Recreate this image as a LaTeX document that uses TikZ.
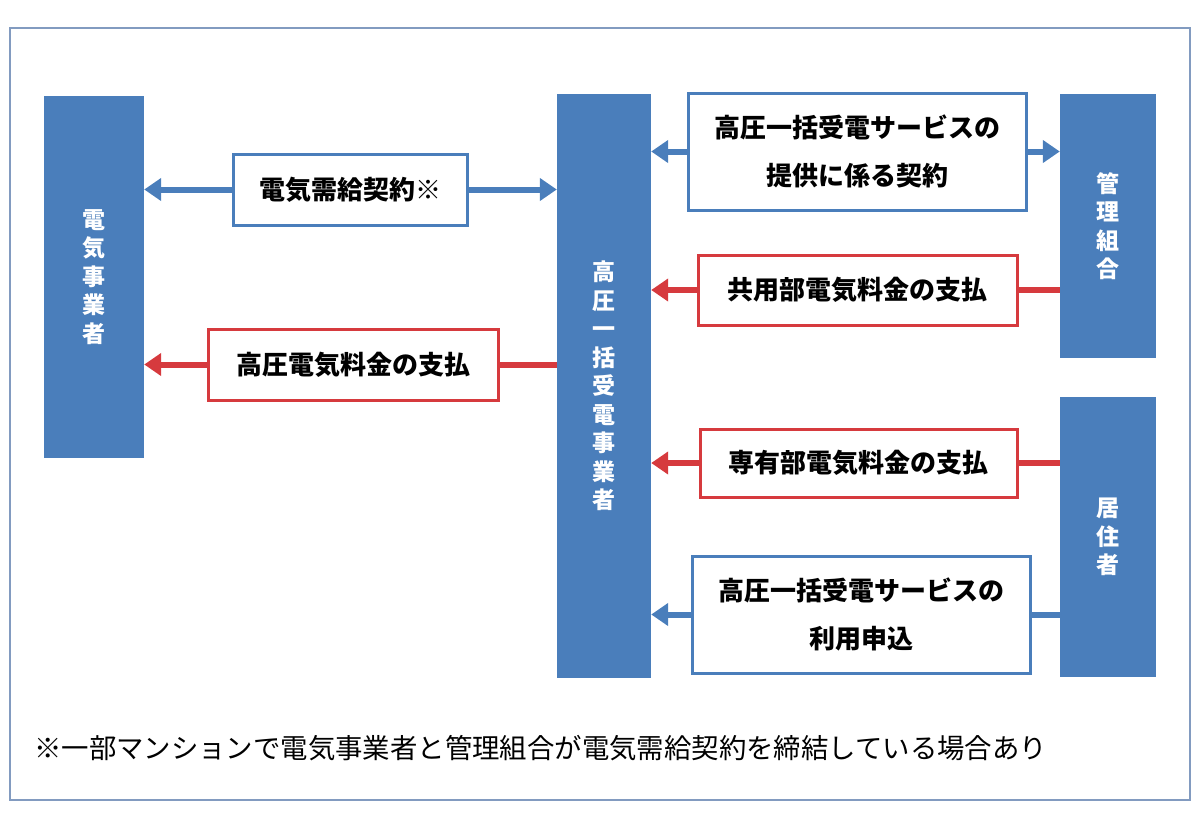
\documentclass[tikz,border=0pt]{standalone}
\usepackage{fontspec}
\newfontfamily\jp{Noto Sans CJK JP}
\usetikzlibrary{positioning,arrows.meta}
\definecolor{barblue}{RGB}{74,126,187}
\definecolor{payred}{RGB}{214,58,62}
\definecolor{framegray}{RGB}{130,155,192}

\begin{document}
\begin{tikzpicture}[x=1pt,y=-1pt,
bar/.style={rectangle, fill=barblue, text=white, inner sep=0pt, align=center, font=\jp\bfseries\fontsize{23}{28.5}\selectfont},
bluebox/.style={rectangle, draw=barblue, line width=3pt, fill=white, inner sep=0pt, align=center, font=\jp\bfseries\fontsize{26}{48}\selectfont},
redbox/.style={bluebox, draw=payred},
blueline/.style={draw=barblue, line width=6pt},
redline/.style={draw=payred, line width=6pt},
tip/.style={-{Triangle[length=17pt,width=22pt]}},
]
\useasboundingbox (0,0) rectangle (1200,828);
\draw[framegray, line width=2pt] (10,28) rectangle (1190,800);

%Bars
\node[bar, minimum width=100pt, minimum height=362pt] (denki) at (94,277)   {電\\気\\事\\業\\者};
\node[bar, minimum width=94pt,  minimum height=584pt] (jigyo) at (604,386)  {高\\圧\\一\\括\\受\\電\\事\\業\\者};
\node[bar, minimum width=96pt,  minimum height=264pt] (kanri) at (1108,226) {管\\理\\組\\合};
\node[bar, minimum width=96pt,  minimum height=280pt] (kyoju) at (1108,537) {居\\住\\者};

%Boxes
\node[bluebox, minimum width=234pt, minimum height=71pt]  (keiyaku)   at (350,189.5) {電気需給契約※};
\node[bluebox, minimum width=338pt, minimum height=117pt] (teikyo)    at (857,151.5) {高圧一括受電サービスの\\提供に係る契約};
\node[redbox,  minimum width=319pt, minimum height=70pt]  (kyoyo)     at (857.5,290) {共用部電気料金の支払};
\node[redbox,  minimum width=290pt, minimum height=71pt]  (koatsu)    at (353,364.5) {高圧電気料金の支払};
\node[redbox,  minimum width=317pt, minimum height=68pt]  (senyu)     at (858.5,463) {専有部電気料金の支払};
\node[bluebox, minimum width=338pt, minimum height=117pt] (moshikomi) at (861,614.5) {高圧一括受電サービスの\\利用申込};

%Lines
\draw[blueline, tip] (keiyaku.west) -- (denki.east |- keiyaku.west);
\draw[blueline, tip] (keiyaku.east) -- (jigyo.west |- keiyaku.east);
\draw[blueline, tip] (teikyo.west) -- (jigyo.east |- teikyo.west);
\draw[blueline, tip] (teikyo.east) -- (kanri.west |- teikyo.east);
\draw[redline] (kanri.west |- kyoyo.east) -- (kyoyo.east);
\draw[redline, tip] (kyoyo.west) -- (jigyo.east |- kyoyo.west);
\draw[redline] (jigyo.west |- koatsu.east) -- (koatsu.east);
\draw[redline, tip] (koatsu.west) -- (denki.east |- koatsu.west);
\draw[redline] (kyoju.west |- senyu.east) -- (senyu.east);
\draw[redline, tip] (senyu.west) -- (jigyo.east |- senyu.west);
\draw[blueline] (kyoju.west |- moshikomi.east) -- (moshikomi.east);
\draw[blueline, tip] (moshikomi.west) -- (jigyo.east |- moshikomi.west);

%Note
\node[anchor=west, inner sep=0pt, font=\jp\fontsize{27.4}{30}\selectfont] (note) at (34,748) {※一部マンションで電気事業者と管理組合が電気需給契約を締結している場合あり};

\end{tikzpicture}
\end{document}
